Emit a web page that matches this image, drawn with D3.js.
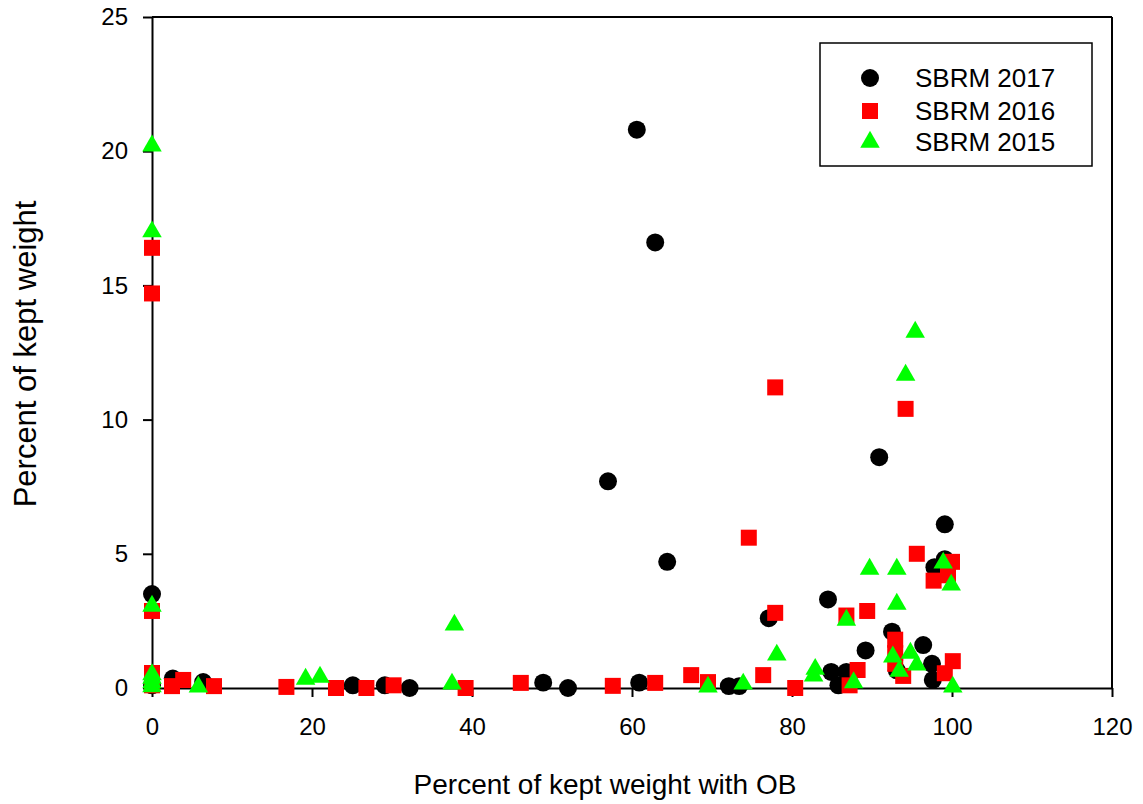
<!DOCTYPE html>
<html>
<head>
<meta charset="utf-8">
<script src="https://cdn.jsdelivr.net/npm/d3@7"></script>
<style>
  body { margin: 0; background: #fff; }
  text { font-family: "Liberation Sans", Arial, sans-serif; fill: #000; }
</style>
</head>
<body>
<div id="chart-area"></div>
<script>
// [percent of kept weight with OB, percent of kept weight]
var sbrm2017 = [[0,3.5],[0,0.1],[2.6,0.35],[6.4,0.22],[25.1,0.1],[29.1,0.1],[32.2,0.0],
  [48.9,0.2],[52,0.0],[60.9,0.2],[64.4,4.7],[57,7.7],[60.6,20.8],[62.9,16.6],
  [72.1,0.07],[73.4,0.07],[77.1,2.6],[84.5,3.3],[84.9,0.6],[85.8,0.1],[86.8,0.6],
  [89.2,1.4],[92.5,2.1],[93.1,0.66],[96.4,1.6],[97.5,0.9],[97.6,0.3],[99.1,6.1],
  [99.1,4.8],[97.8,4.5],[90.9,8.6]];

var sbrm2016 = [[0,16.4],[0,14.7],[0,2.87],[0,0.56],[0,0.1],[2.5,0.07],[3.9,0.3],[7.75,0.07],
  [16.8,0.04],[23,0],[26.8,0],[30.2,0.1],[39.2,0],[46.1,0.19],[57.6,0.08],[62.9,0.19],
  [67.4,0.48],[69.5,0.22],[76.4,0.48],[80.4,0],[74.6,5.6],[77.9,11.2],[77.9,2.8],
  [86.8,2.7],[89.4,2.87],[88.2,0.67],[87.2,0.1],[92.9,1.8],[92.9,1.3],[92.9,0.9],
  [93.9,0.45],[95.6,5.0],[97.7,4.0],[100,4.7],[99.5,4.2],[99.1,0.55],[100.1,1.0],[94.2,10.4]];

var sbrm2015 = [[0,20.2],[0,17.0],[0,3.05],[0,0.5],[0,0.37],[0,0.2],[0,0.05],[5.8,0.04],
  [19.2,0.33],[21,0.41],[37.8,2.35],[37.5,0.15],[69.5,0.04],[73.9,0.15],[78.1,1.23],
  [82.9,0.7],[82.7,0.45],[86.8,2.53],[87.7,0.2],[89.7,4.43],[93.1,4.43],[93.1,3.13],
  [92.6,1.16],[93.4,0.63],[94.8,1.3],[95.6,0.86],[98.9,4.66],[99.9,3.84],[100.1,0.04],
  [95.4,13.26],[94.2,11.66]];

var seriesNames = ["SBRM 2017", "SBRM 2016", "SBRM 2015"];
var xTicks = [0, 20, 40, 60, 80, 100, 120];
var yTicks = [0, 5, 10, 15, 20, 25];

var margin = {left:152, right:31, top:17, bottom:116};
var width = 1143 - margin.left - margin.right,
	height = 804 - margin.top - margin.bottom;

var svg = d3.select("#chart-area")
	.append("svg")
		.attr("width", 1143)
		.attr("height", 804);

var g = svg.append("g")
	.attr("transform", "translate(" + margin.left + "," + margin.top + ")");

var x = d3.scaleLinear().domain([0, 120]).range([0, width]);
var y = d3.scaleLinear().domain([0, 25]).range([height, 0]);

// frame lines on top and right
g.append("line").attr("x1", 0).attr("x2", width).attr("y1", 0).attr("y2", 0)
	.attr("stroke", "#000").attr("stroke-width", 2);
g.append("line").attr("x1", width).attr("x2", width).attr("y1", 0).attr("y2", height)
	.attr("stroke", "#000").attr("stroke-width", 2);

var xAxis = g.append("g")
	.attr("transform", "translate(0," + height + ")")
	.call(d3.axisBottom(x).tickValues(xTicks).tickSize(9).tickSizeOuter(0).tickPadding(21));

var yAxis = g.append("g")
	.call(d3.axisLeft(y).tickValues(yTicks).tickSize(9).tickSizeOuter(0).tickPadding(15));

[xAxis, yAxis].forEach(function(a) {
	a.selectAll("path, line").attr("stroke", "#000").attr("stroke-width", 2);
	a.selectAll("text")
		.style("font-family", "'Liberation Sans', Arial, sans-serif")
		.style("font-size", "24px")
		.attr("fill", "#000");
});

// axis titles
svg.append("text")
	.attr("x", 605).attr("y", 794)
	.attr("text-anchor", "middle")
	.style("font-size", "28px")
	.text("Percent of kept weight with OB");

svg.append("text")
	.attr("transform", "translate(36,354) rotate(-90)")
	.attr("text-anchor", "middle")
	.style("font-size", "31px")
	.text("Percent of kept weight");

var styles = [
	{data: sbrm2017, type: d3.symbolCircle, size: 254, color: "#000000"},
	{data: sbrm2016, type: d3.symbolSquare, size: 256, color: "#ff0000"},
	{data: sbrm2015, type: d3.symbolTriangle, size: 165, color: "#00ff00"}
];

styles.forEach(function(s) {
	g.append("g").selectAll("path")
		.data(s.data)
		.enter()
		.append("path")
			.attr("transform", function(d){ return "translate(" + x(d[0]) + "," + y(d[1]) + ")"; })
			.attr("d", d3.symbol().type(s.type).size(s.size))
			.attr("fill", s.color);
});

// legend
var legend = svg.append("g");
legend.append("rect")
	.attr("x", 820).attr("y", 43).attr("width", 272).attr("height", 123)
	.attr("fill", "#fff").attr("stroke", "#000").attr("stroke-width", 1.5);

var legendY = [78, 111, 142];
styles.forEach(function(s, i) {
	legend.append("path")
		.attr("transform", "translate(870," + legendY[i] + ")")
		.attr("d", d3.symbol().type(s.type).size(s.size))
		.attr("fill", s.color);
	legend.append("text")
		.attr("x", 915).attr("y", legendY[i] + 9)
		.style("font-size", "26px")
		.text(seriesNames[i]);
});
</script>
</body>
</html>
